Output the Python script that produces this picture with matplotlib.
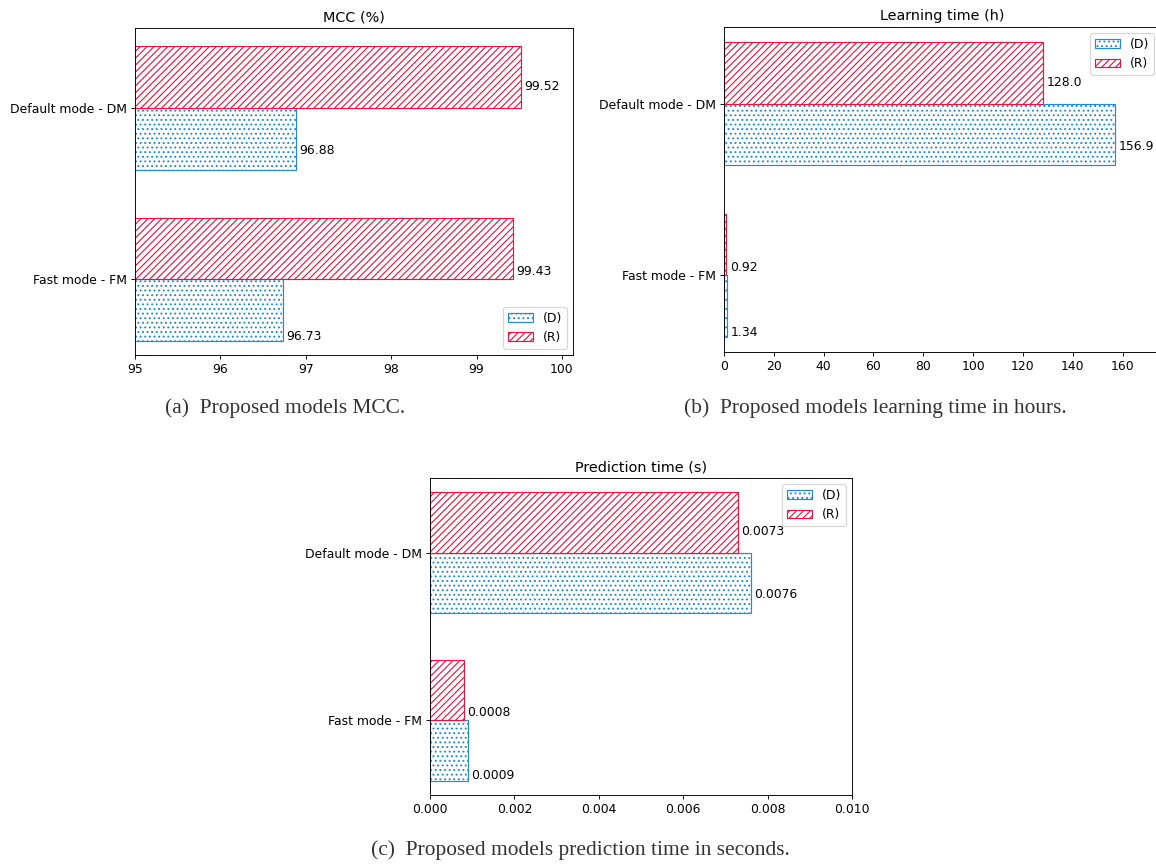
import matplotlib
matplotlib.use("Agg")
import matplotlib.pyplot as plt
import numpy as np

categories = ["Default mode - DM", "Fast mode - FM"]
mcc_d = [96.88, 96.73]
mcc_r = [99.52, 99.43]
learn_d = [156.9, 1.34]
learn_r = [128.0, 0.92]
pred_d = [0.0076, 0.0009]
pred_r = [0.0073, 0.0008]

BLUE = "#1f8ad8"
RED = "#e3173f"
h = 0.36
y = np.array([1, 0])

# label y offsets (as in the original figure)
red_off = [0.125, 0.047]
blue_off = [-0.25, -0.33]

plt.rcParams["hatch.linewidth"] = 1.0
plt.rcParams["font.size"] = 10.7
plt.rcParams["axes.titlesize"] = 12.5

fig = plt.figure(figsize=(1156 / 83, 864 / 83), dpi=83)


def draw(ax, d, r, title, legend_loc):
    ax.barh(y - h / 2, d, height=h, color="white", edgecolor=BLUE, hatch="...", label="(D)")
    ax.barh(y + h / 2, r, height=h, color="white", edgecolor=RED, hatch="////", label="(R)")
    for i in range(len(y)):
        ax.annotate(str(r[i]), (r[i], y[i] + red_off[i]), xytext=(3, 0),
                    textcoords="offset points", va="center")
        ax.annotate(str(d[i]), (d[i], y[i] + blue_off[i]), xytext=(3, 0),
                    textcoords="offset points", va="center")
    ax.set_yticks(y)
    ax.set_yticklabels(categories)
    ax.set_title(title)
    ax.legend(loc=legend_loc)


ax1 = fig.add_axes([135 / 1156, 1 - 355 / 864, 438 / 1156, 327 / 864])
draw(ax1, mcc_d, mcc_r, "MCC (%)", "lower right")
ax1.set_xlim(95, 100.13)
ax1.set_ylim(-0.44, 1.465)

ax2 = fig.add_axes([724 / 1156, 1 - 352 / 864, 436 / 1156, 325 / 864])
draw(ax2, learn_d, learn_r, "Learning time (h)", "upper right")
ax2.set_xlim(0, 175)

ax3 = fig.add_axes([430 / 1156, 1 - 795 / 864, 422 / 1156, 317 / 864])
draw(ax3, pred_d, pred_r, "Prediction time (s)", "upper right")
ax3.set_xlim(0, 0.010)

cap = dict(family="Liberation Serif", fontsize=18.5, color="#333333", ha="center", va="center")
fig.text(285 / 1156, 1 - 408 / 864, "(a)  Proposed models MCC.", **cap)
fig.text(875 / 1156, 1 - 408 / 864, "(b)  Proposed models learning time in hours.", **cap)
fig.text(580 / 1156, 1 - 850 / 864, "(c)  Proposed models prediction time in seconds.", **cap)

fig.savefig("out.png", dpi=83)
